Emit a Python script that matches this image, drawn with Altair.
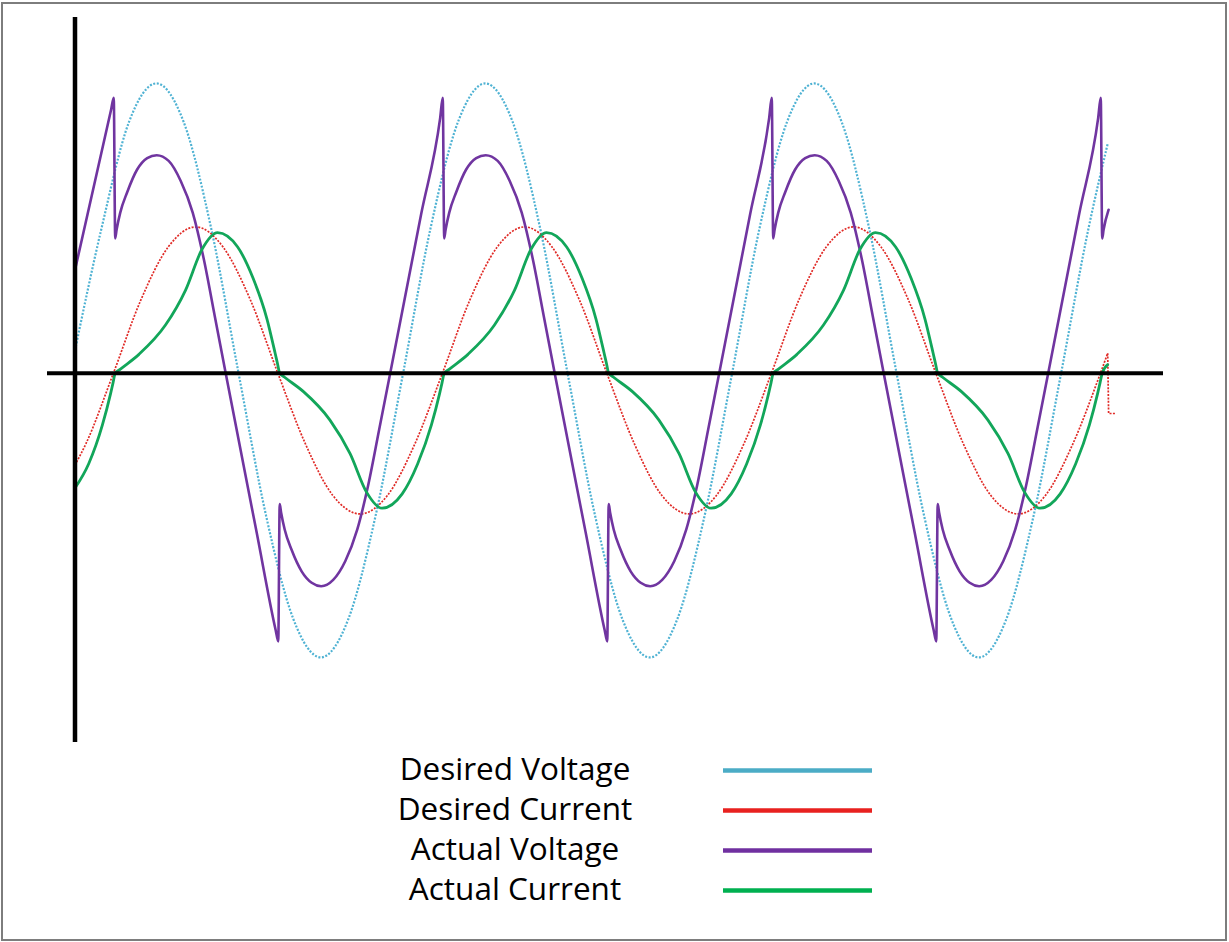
import altair as alt
import pandas as pd

# ---------------- data (x = electrical angle in degrees, y = per-unit) ----------------
SERIES = ["Desired Voltage", "Desired Current", "Actual Voltage", "Actual Current"]
COLORS = ["#4BACC6", "#E8211F", "#7030A0", "#00B050"]

dv_deg = [0, 29, 59, 89, 119, 149, 179, 209, 239, 269, 299, 329, 359,
          389, 419, 449, 479, 509, 539, 569, 599, 629, 659, 689, 719,
          749, 779, 809, 839, 869, 899, 929, 959, 989, 1019, 1049, 1079,
          1109, 1130]
dv_val = [0.08, 0.505, 0.875, 1.01, 0.875, 0.505, 0.0, -0.495, -0.857, -0.99, -0.857, -0.495, 0.0,
          0.505, 0.875, 1.01, 0.875, 0.505, 0.0, -0.495, -0.857, -0.99, -0.857, -0.495, 0.0,
          0.505, 0.875, 1.01, 0.875, 0.505, 0.0, -0.495, -0.857, -0.99, -0.857, -0.495, 0.0,
          0.505, 0.80]

dc_deg = [0, 12, 42, 72, 102, 132, 162, 192, 222, 252, 282, 312, 342, 372,
          402, 432, 462, 492, 522, 552, 582, 612, 642, 672, 702, 732,
          762, 792, 822, 852, 882, 912, 942, 972, 1002, 1032, 1062, 1092,
          1122, 1130]
dc_val = [-0.32, -0.245, 0.0, 0.255, 0.44, 0.51, 0.44, 0.255, 0.0, -0.245, -0.425, -0.49, -0.425, -0.245,
          0.0, 0.255, 0.44, 0.51, 0.44, 0.255, 0.0, -0.245, -0.425, -0.49, -0.425, -0.245,
          0.0, 0.255, 0.44, 0.51, 0.44, 0.255, 0.0, -0.245, -0.425, -0.49, -0.425, -0.245,
          0.0, 0.07]
# the little step at the very end of the desired-current trace
dc_tail_deg = [1130, 1131, 1138]
dc_tail_val = [0.07, -0.14, -0.14]

av_deg = [0, 39.6, 42.4,
          44, 45.5, 49.5, 57, 68, 79, 89.4, 102.5, 115.7, 128.8, 140.8, 152.9, 164.9, 198.8, 219.6, 222.4,
          224, 225.5, 229.5, 237, 248, 259, 269.4, 282.5, 295.7, 308.8, 320.8, 332.9, 344.9, 378.8, 399.6, 402.4,
          404, 405.5, 409.5, 417, 428, 439, 449.4, 462.5, 475.7, 488.8, 500.8, 512.9, 524.9, 558.8, 579.6, 582.4,
          584, 585.5, 589.5, 597, 608, 619, 629.4, 642.5, 655.7, 668.8, 680.8, 692.9, 704.9, 738.8, 759.6, 762.4,
          764, 765.5, 769.5, 777, 788, 799, 809.4, 822.5, 835.7, 848.8, 860.8, 872.9, 884.9, 918.8, 939.6, 942.4,
          944, 945.5, 949.5, 957, 968, 979, 989.4, 1002.5, 1015.7, 1028.8, 1040.8, 1052.9, 1064.9, 1098.8, 1119.6, 1122.4,
          1124, 1125.5, 1131]
av_val = [0.36, 0.92, 0.96,
          0.47, 0.50, 0.56, 0.63, 0.71, 0.75, 0.76, 0.74, 0.67, 0.56, 0.40, 0.20, 0.0, -0.555, -0.895, -0.934,
          -0.456, -0.485, -0.545, -0.615, -0.69, -0.73, -0.742, -0.72, -0.655, -0.545, -0.39, -0.195, 0.0, 0.555, 0.89, 0.96,
          0.47, 0.50, 0.56, 0.63, 0.71, 0.75, 0.76, 0.74, 0.67, 0.56, 0.40, 0.20, 0.0, -0.555, -0.895, -0.934,
          -0.456, -0.485, -0.545, -0.615, -0.69, -0.73, -0.742, -0.72, -0.655, -0.545, -0.39, -0.195, 0.0, 0.555, 0.89, 0.96,
          0.47, 0.50, 0.56, 0.63, 0.71, 0.75, 0.76, 0.74, 0.67, 0.56, 0.40, 0.20, 0.0, -0.555, -0.895, -0.934,
          -0.456, -0.485, -0.545, -0.615, -0.69, -0.73, -0.742, -0.72, -0.655, -0.545, -0.39, -0.195, 0.0, 0.555, 0.89, 0.96,
          0.47, 0.50, 0.57]

ac_deg = [0, 15, 30, 39, 41.5,
          44, 49, 70, 99, 121, 139, 156, 178, 195, 210, 219, 221.5,
          224, 229, 250, 279, 301, 319, 336, 358, 375, 390, 399, 401.5,
          404, 409, 430, 459, 481, 499, 516, 538, 555, 570, 579, 581.5,
          584, 589, 610, 639, 661, 679, 696, 718, 735, 750, 759, 761.5,
          764, 769, 790, 819, 841, 859, 876, 898, 915, 930, 939, 941.5,
          944, 949, 970, 999, 1021, 1039, 1056, 1078, 1095, 1110, 1119, 1121.5,
          1124, 1130]
ac_val = [-0.40, -0.315, -0.18, -0.07, -0.035,
          0.0, 0.013, 0.066, 0.168, 0.29, 0.432, 0.49, 0.44, 0.33, 0.19, 0.07, 0.035,
          0.0, -0.013, -0.064, -0.163, -0.28, -0.414, -0.47, -0.42, -0.315, -0.18, -0.07, -0.035,
          0.0, 0.013, 0.066, 0.168, 0.29, 0.432, 0.49, 0.44, 0.33, 0.19, 0.07, 0.035,
          0.0, -0.013, -0.064, -0.163, -0.28, -0.414, -0.47, -0.42, -0.315, -0.18, -0.07, -0.035,
          0.0, 0.013, 0.066, 0.168, 0.29, 0.432, 0.49, 0.44, 0.33, 0.19, 0.07, 0.035,
          0.0, -0.013, -0.064, -0.163, -0.28, -0.414, -0.47, -0.42, -0.315, -0.18, -0.07, -0.035,
          0.0, 0.03]

# ---------------- layout ----------------
W, H = 1229, 942
X0_PX, PX_PER_DEG = 75.0, 329.0 / 360.0      # vertical axis position, horizontal scale
Y0_PX, PX_PER_PU = 373.3, 287.0              # horizontal axis position, vertical scale
X_DOMAIN = [-X0_PX / PX_PER_DEG, (W - X0_PX) / PX_PER_DEG]
Y_DOMAIN = [-(H - Y0_PX) / PX_PER_PU, Y0_PX / PX_PER_PU]

xs = alt.Scale(domain=X_DOMAIN, nice=False, zero=False)
ys = alt.Scale(domain=Y_DOMAIN, nice=False, zero=False)


def frame(deg, val, name):
    return pd.DataFrame({"deg": deg, "val": val, "series": name, "i": range(len(deg))})


def curve(df, color, width, dash=None, interp="monotone", opacity=1.0):
    kw = dict(color=color, strokeWidth=width, interpolate=interp, opacity=opacity,
              clip=True, strokeCap="round", strokeJoin="round")
    if dash:
        kw["strokeDash"] = dash
        kw["strokeCap"] = "butt"
    return alt.Chart(df).mark_line(**kw).encode(
        x=alt.X("deg:Q", scale=xs, axis=None),
        y=alt.Y("val:Q", scale=ys, axis=None),
        order="i:Q",
    )


dv = curve(frame(dv_deg, dv_val, SERIES[0]), "#4fb2d3", 2.2, dash=[2, 1.6])
dc = curve(frame(dc_deg, dc_val, SERIES[1]), "#e02a26", 1.7, dash=[2, 1.4])
dc_tail = curve(frame(dc_tail_deg, dc_tail_val, SERIES[1]), "#e02a26", 1.7, dash=[2, 1.4], interp="linear")
av = curve(frame(av_deg, av_val, SERIES[2]), "#7035a0", 2.6)
ac = curve(frame(ac_deg, ac_val, SERIES[3]), "#12a65a", 2.8)

axes_df = pd.DataFrame({"zero": [0]})
h_axis = alt.Chart(axes_df).mark_rule(color="black", strokeWidth=4).encode(
    y=alt.Y("zero:Q", scale=ys, axis=None), x=alt.value(47), x2=alt.value(1163))
v_axis = alt.Chart(axes_df).mark_rule(color="black", strokeWidth=4.5).encode(
    x=alt.X("zero:Q", scale=xs, axis=None), y=alt.value(17), y2=alt.value(742))

border = alt.Chart(axes_df).mark_rect(fill=None, stroke="#7d7d7d", strokeWidth=2).encode(
    x=alt.value(2), x2=alt.value(1226), y=alt.value(3), y2=alt.value(940))

# ---------------- legend (labels on the left, line samples on the right) ----------------
legend_layers = []
for k, (name, col) in enumerate(zip(SERIES, COLORS)):
    ldf = pd.DataFrame({"series": [name]})
    legend_layers.append(
        alt.Chart(ldf).mark_text(font="Open Sans", fontSize=31.5, color="black", align="center",
                                 baseline="alphabetic").encode(
            text="series:N", x=alt.value(515), y=alt.value(779.5 + 40 * k)))
    legend_layers.append(
        alt.Chart(ldf).mark_rule(color=col, strokeWidth=4.5).encode(
            x=alt.value(723), x2=alt.value(872), y=alt.value(770.5 + 40 * k)))

chart = alt.layer(border, dv, dc, dc_tail, av, ac, h_axis, v_axis, *legend_layers).properties(
    width=W, height=H, padding=0, autosize=alt.AutoSizeParams(type="none"),
    background="white",
).configure_view(stroke=None)

chart.save("out.html", embed_options={"renderer": "svg", "actions": False})
